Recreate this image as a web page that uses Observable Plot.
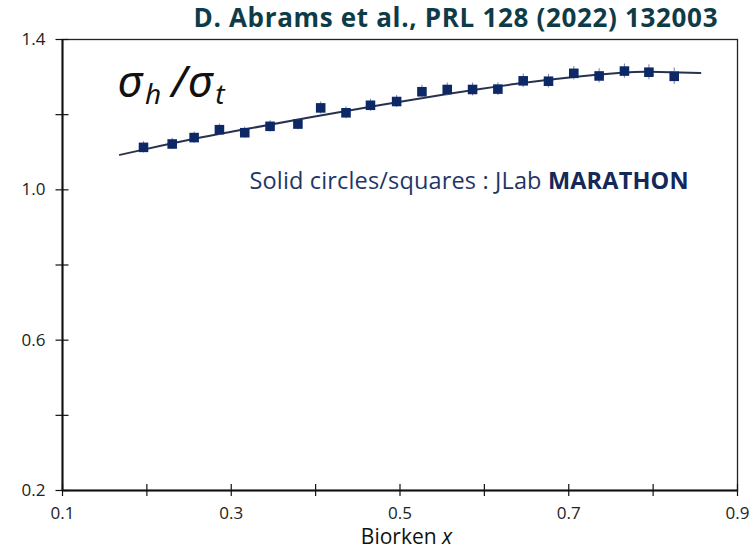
<!DOCTYPE html>
<html><head><meta charset="utf-8">
<script src="https://cdn.jsdelivr.net/npm/d3@7"></script>
<script src="https://cdn.jsdelivr.net/npm/@observablehq/plot@0.6"></script>
<style>body{margin:0;background:#fff} svg{display:block}</style>
</head><body><div id="chart"></div>
<script>
// MARATHON data points (Bjorken x, sigma_h/sigma_t)
const xs = [0.196, 0.230, 0.256, 0.286, 0.316, 0.346, 0.379, 0.406, 0.436, 0.465, 0.496, 0.526, 0.556, 0.586, 0.616, 0.646, 0.676, 0.706, 0.736, 0.766, 0.795, 0.825];
const ys = [1.113, 1.122, 1.139, 1.160, 1.152, 1.169, 1.175, 1.218, 1.205, 1.225, 1.235, 1.261, 1.267, 1.267, 1.268, 1.290, 1.289, 1.310, 1.303, 1.316, 1.313, 1.302];
const errs = [0.015, 0.015, 0.015, 0.015, 0.015, 0.015, 0.015, 0.016, 0.016, 0.016, 0.016, 0.017, 0.017, 0.017, 0.017, 0.018, 0.018, 0.018, 0.019, 0.019, 0.020, 0.022];
// fitted curve
const fitX = [0.168, 0.196, 0.255, 0.316, 0.394, 0.477, 0.556, 0.631, 0.706, 0.766, 0.796, 0.856];
const fitY = [1.093, 1.107, 1.135, 1.161, 1.193, 1.226, 1.255, 1.280, 1.300, 1.312, 1.314, 1.311];
// axes
const xTicks = [0.1, 0.2, 0.3, 0.4, 0.5, 0.6, 0.7, 0.8, 0.9];
const xTickLabels = [0.1, 0.3, 0.5, 0.7, 0.9];
const yTicks = [0.2, 0.4, 0.6, 0.8, 1.0, 1.2, 1.4];
const yTickLabels = [0.2, 0.6, 1.0, 1.4];
const title = "D. Abrams et al., PRL 128 (2022) 132003";
const ratioLabel = "σh/σt";
const noteText = "Solid circles/squares : JLab MARATHON";
const xLabel = "Biorken x";

const points = xs.map((x, i) => ({x, y: ys[i], e: errs[i]}));
const fit = fitX.map((x, i) => ({x, y: fitY[i]}));
const fmt = d3.format(".1f");
const font = "'Open Sans', Lato, sans-serif";

const chart = Plot.plot({
  width: 756,
  height: 549,
  marginLeft: 62,
  marginRight: 19,
  marginTop: 39,
  marginBottom: 59,
  style: {fontFamily: font, background: "#fff"},
  x: {domain: [0.1, 0.9]},
  y: {domain: [0.2, 1.4]},
  marks: [
    Plot.frame({stroke: "#222", strokeWidth: 1.3}),
    Plot.ruleX([0.1], {stroke: "#111", strokeWidth: 2}),
    Plot.ruleY([0.2], {stroke: "#111", strokeWidth: 2}),
    // crossing ticks
    Plot.axisY({ticks: yTicks, tickSize: 13, dx: 6.5, tickFormat: () => "", stroke: "#111", strokeWidth: 1.2, label: null}),
    Plot.axisX({ticks: xTicks, tickSize: 12, dy: -6, tickFormat: () => "", stroke: "#111", strokeWidth: 1.2, label: null}),
    // tick labels
    Plot.axisY({ticks: yTickLabels, tickSize: 0, tickPadding: 17, tickFormat: fmt, fontSize: 17, fill: "#222", label: null}),
    Plot.axisX({ticks: xTickLabels, tickSize: 0, tickPadding: 16, tickFormat: fmt, fontSize: 17, fill: "#222", label: null}),
    // fit curve
    Plot.line(fit, {x: "x", y: "y", curve: "natural", stroke: "#27324f", strokeWidth: 2}),
    // error bars
    Plot.ruleX(points, {x: "x", y1: d => d.y - d.e, y2: d => d.y + d.e, stroke: "#7d8bab", strokeWidth: 1.1}),
    // data squares
    Plot.dot(points, {x: "x", y: "y", symbol: "square", r: 5.4, fill: "#0c2866", stroke: "none"}),
    // texts
    Plot.text([title], {frameAnchor: "top-right", dx: -20, dy: -20.5, textAnchor: "end", lineAnchor: "middle", fontSize: 26, fontWeight: "bold", fill: "#0e3b48"}),
    Plot.text([ratioLabel], {frameAnchor: "top-left", dx: 55, dy: 43, textAnchor: "start", lineAnchor: "middle", fontSize: 44, fill: "#111"}),
    Plot.text([noteText], {frameAnchor: "top-left", dx: 187, dy: 141.5, textAnchor: "start", lineAnchor: "middle", fontSize: 23.5, fill: "#1f3567"}),
    Plot.text([xLabel], {frameAnchor: "bottom", dx: 6.5, dy: 46.5, textAnchor: "middle", lineAnchor: "middle", fontSize: 21, fill: "#111"})
  ]
});

// rich text formatting (subscripts, bold, italic) and width fitting
d3.select(chart).selectAll("text").each(function() {
  const t = d3.select(this);
  const s = this.textContent;
  if (s === title) {
    t.attr("textLength", 524).attr("lengthAdjust", "spacing");
  } else if (s === ratioLabel) {
    t.text("").attr("font-family", "'Noto Sans', 'DejaVu Sans', sans-serif").attr("font-style", "italic");
    t.append("tspan").text("σ");
    t.append("tspan").text("h").attr("font-size", 28).attr("dy", 7).attr("dx", 3);
    t.append("tspan").text("/").attr("dy", -7).attr("dx", 10);
    t.append("tspan").text("σ").attr("dx", 1);
    t.append("tspan").text("t").attr("font-size", 28).attr("dy", 7).attr("dx", 3);
  } else if (s === noteText) {
    t.text("").attr("textLength", 439).attr("lengthAdjust", "spacing");
    t.append("tspan").text("Solid circles/squares : JLab ");
    t.append("tspan").text("MARATHON").attr("font-weight", "bold").attr("fill", "#14285a");
  } else if (s === xLabel) {
    t.text("");
    t.append("tspan").text("Biorken ");
    t.append("tspan").text("x").attr("font-style", "italic");
  }
});

document.getElementById("chart").appendChild(chart);
</script>
</body></html>
